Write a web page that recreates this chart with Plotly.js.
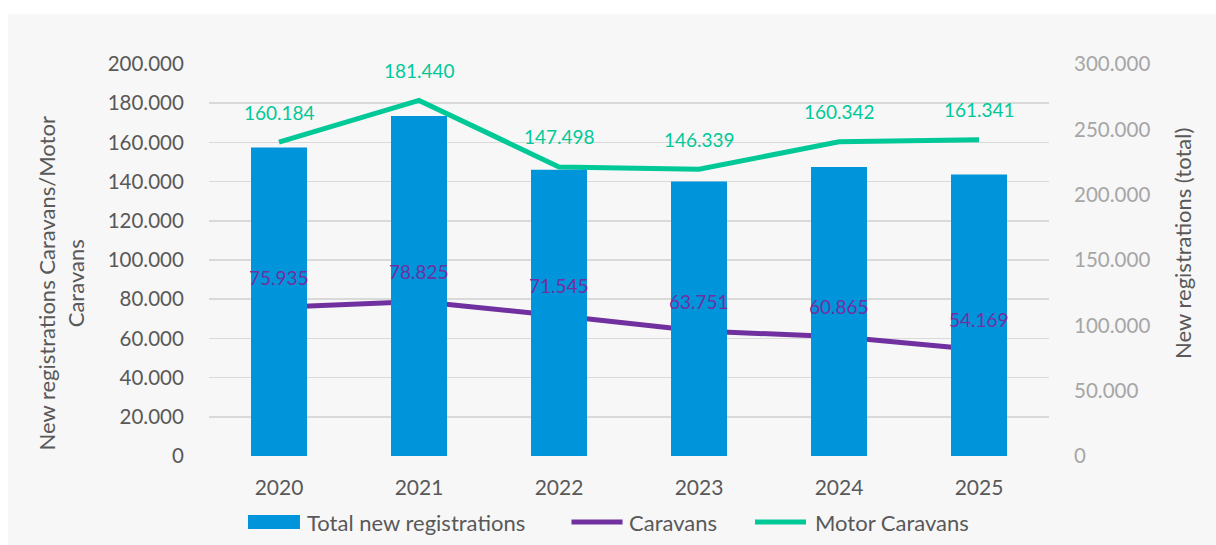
<!DOCTYPE html>
<html>
<head>
<meta charset="utf-8">
<script src="https://cdn.plot.ly/plotly-3.0.1.min.js"></script>
<style>
  html, body { margin: 0; padding: 0; background: #ffffff; width: 1216px; height: 545px; overflow: hidden; }
  #chart { position: absolute; left: 8px; top: 14px; width: 1208px; height: 531px; }
</style>
</head>
<body>
<div id="chart"></div>
<script>
const years = ['2020', '2021', '2022', '2023', '2024', '2025'];
const caravans = [75935, 78825, 71545, 63751, 60865, 54169];
const motorCaravans = [160184, 181440, 147498, 146339, 160342, 161341];
const totalRegistrations = [236119, 260265, 219043, 210090, 221207, 215510];
const seriesNames = ['Total new registrations', 'Caravans', 'Motor Caravans'];
const leftTitle = 'New registrations Caravans/Motor<br>Caravans';
const rightTitle = 'New registrations (total)';

const FONT = 'Lato, Carlito, Calibri, "Open Sans", sans-serif';
const GREEN = '#00C997';
const PURPLE = '#7030A0';
const BLUE = '#0094DB';
const GREY = '#595959';

function fmt(n) { return String(n).replace(/\B(?=(\d{3})+(?!\d))/g, '.'); }

const traces = [
  {
    type: 'bar', name: seriesNames[0], x: years, y: totalRegistrations,
    yaxis: 'y2', marker: { color: BLUE }, width: 0.4
  },
  {
    type: 'scatter', mode: 'lines', name: seriesNames[1], x: years, y: caravans,
    line: { color: PURPLE, width: 5 }
  },
  {
    type: 'scatter', mode: 'lines', name: seriesNames[2], x: years, y: motorCaravans,
    line: { color: GREEN, width: 5 }
  }
];

const annotations = [];
years.forEach((yr, i) => {
  annotations.push({ x: i, y: motorCaravans[i], xref: 'x', yref: 'y', text: fmt(motorCaravans[i]),
    showarrow: false, yshift: 30, font: { family: FONT, size: 19, color: GREEN } });
  annotations.push({ x: i, y: caravans[i], xref: 'x', yref: 'y', text: fmt(caravans[i]),
    showarrow: false, yshift: 30, font: { family: FONT, size: 19, color: PURPLE } });
});

// axis titles
annotations.push({ xref: 'paper', yref: 'paper', x: -0.1756, y: 0.4413, text: leftTitle,
  textangle: -90, showarrow: false, xanchor: 'center', yanchor: 'middle', align: 'center',
  font: { family: FONT, size: 22, color: GREY } });
annotations.push({ xref: 'paper', yref: 'paper', x: 1.1595, y: 0.5434, text: rightTitle,
  textangle: -90, showarrow: false, xanchor: 'center', yanchor: 'middle',
  font: { family: FONT, size: 22, color: GREY } });

// custom legend (texts)
const legendTextX = [0.1143, 0.4976, 0.7190];
seriesNames.forEach((nm, i) => {
  annotations.push({ xref: 'paper', yref: 'paper', x: legendTextX[i], y: -0.1684, text: nm,
    showarrow: false, xanchor: 'left', yanchor: 'middle',
    font: { family: FONT, size: 22, color: GREY } });
});

const shapes = [
  { type: 'rect', xref: 'paper', yref: 'paper', x0: 0.0464, x1: 0.1083, y0: -0.1505, y1: -0.1862,
    fillcolor: BLUE, line: { width: 0 } },
  { type: 'line', xref: 'paper', yref: 'paper', x0: 0.4315, x1: 0.4923, y0: -0.1684, y1: -0.1684,
    line: { color: PURPLE, width: 5 } },
  { type: 'line', xref: 'paper', yref: 'paper', x0: 0.6500, x1: 0.7107, y0: -0.1684, y1: -0.1684,
    line: { color: GREEN, width: 5 } }
];

const layout = {
  width: 1208, height: 531,
  separators: ',.',
  paper_bgcolor: '#F7F7F7', plot_bgcolor: '#F7F7F7',
  margin: { l: 201, r: 167, t: 50, b: 89, pad: 0 },
  font: { family: FONT, size: 20, color: GREY },
  showlegend: false,
  xaxis: {
    type: 'category', range: [-0.5, 5.5], showgrid: false, zeroline: false, showline: false,
    ticks: 'outside', ticklen: 13, tickcolor: 'rgba(0,0,0,0)',
    tickfont: { family: FONT, size: 21, color: GREY }
  },
  yaxis: {
    range: [0, 200000], dtick: 20000, tickformat: ',d',
    showgrid: true, gridcolor: '#D9D9D9', gridwidth: 1.5, zeroline: false, showline: false,
    ticks: 'outside', ticklen: 20, tickcolor: 'rgba(0,0,0,0)',
    tickfont: { family: FONT, size: 20.5, color: GREY }
  },
  yaxis2: {
    overlaying: 'y', side: 'right', range: [0, 300000], dtick: 50000, tickformat: ',d',
    showgrid: false, zeroline: false, showline: false,
    ticks: 'outside', ticklen: 20, tickcolor: 'rgba(0,0,0,0)',
    tickfont: { family: FONT, size: 20.5, color: '#A6A6A6' }
  },
  annotations: annotations,
  shapes: shapes
};

Plotly.newPlot('chart', traces, layout, { displayModeBar: false, staticPlot: true });
</script>
</body>
</html>
